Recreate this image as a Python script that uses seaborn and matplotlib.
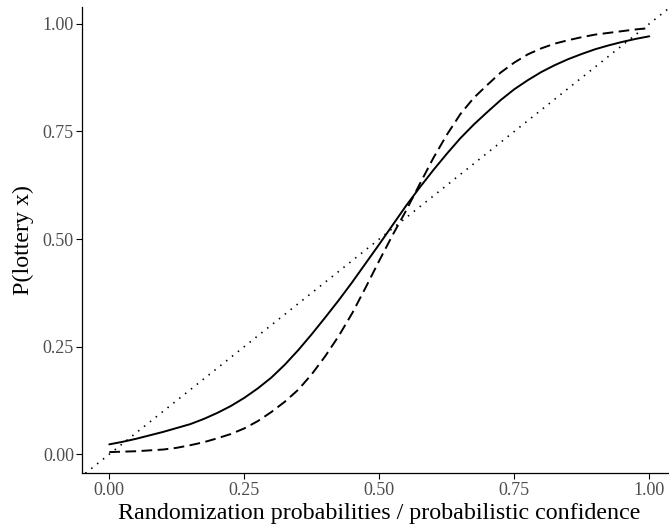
import numpy as np
import pandas as pd
import matplotlib
matplotlib.use("Agg")
import matplotlib.pyplot as plt
import seaborn as sns

# Probability grid and the two fitted response curves
prob = [0.000, 0.025, 0.050, 0.075, 0.100, 0.125, 0.150, 0.175, 0.200, 0.225,
        0.250, 0.275, 0.300, 0.325, 0.350, 0.375, 0.400, 0.425, 0.450, 0.475,
        0.500, 0.525, 0.550, 0.575, 0.600, 0.625, 0.650, 0.675, 0.700, 0.725,
        0.750, 0.775, 0.800, 0.825, 0.850, 0.875, 0.900, 0.925, 0.950, 0.975, 1.000]
p_solid = [0.023, 0.029, 0.036, 0.044, 0.052, 0.061, 0.070, 0.082, 0.096, 0.112,
           0.131, 0.153, 0.178, 0.208, 0.242, 0.279, 0.318, 0.358, 0.400, 0.444,
           0.488, 0.533, 0.578, 0.620, 0.660, 0.698, 0.734, 0.766, 0.795, 0.823,
           0.848, 0.869, 0.888, 0.904, 0.918, 0.930, 0.941, 0.950, 0.958, 0.965, 0.971]
p_dashed = [0.005, 0.006, 0.007, 0.009, 0.011, 0.015, 0.021, 0.028, 0.037, 0.047,
            0.060, 0.077, 0.098, 0.122, 0.150, 0.186, 0.228, 0.275, 0.328, 0.388,
            0.450, 0.510, 0.567, 0.628, 0.688, 0.742, 0.790, 0.828, 0.858, 0.887,
            0.910, 0.929, 0.943, 0.954, 0.962, 0.969, 0.975, 0.979, 0.983, 0.987, 0.990]

# Reference diagonal (identity line)
diag_intercept = 0.0
diag_slope = 1.0

tick_values = [0.00, 0.25, 0.50, 0.75, 1.00]
tick_labels = ["0.00", "0.25", "0.50", "0.75", "1.00"]

df = pd.DataFrame({"prob": prob, "solid": p_solid, "dashed": p_dashed})

sns.set_theme(style="ticks")
plt.rcParams["font.family"] = ["Liberation Serif", "DejaVu Serif"]

fig = plt.figure(figsize=(6.69, 5.28), dpi=100)
ax = fig.add_axes([0.1230, 0.1036, 0.8879, 0.8833])

sns.lineplot(data=df, x="prob", y="solid", ax=ax, color="black", linewidth=1.4,
             estimator=None, sort=False)
sns.lineplot(data=df, x="prob", y="dashed", ax=ax, color="black", linewidth=1.4,
             linestyle=(0, (5.5, 2.8)), estimator=None, sort=False)
ax.axline((0.0, diag_intercept), slope=diag_slope, color="black", linewidth=1.2,
          linestyle=(0, (0.9, 3.6)))

# ggplot-style 5% expansion of the data range
xmin, xmax = min(prob), max(prob)
ymin = min(min(p_solid), min(p_dashed))
ymax = max(max(p_solid), max(p_dashed))
ax.set_xlim(xmin - 0.05 * (xmax - xmin), xmax + 0.05 * (xmax - xmin))
ax.set_ylim(ymin - 0.05 * (ymax - ymin), ymax + 0.05 * (ymax - ymin))

ax.set_xticks(tick_values)
ax.set_xticklabels(tick_labels)
ax.set_yticks(tick_values)
ax.set_yticklabels(tick_labels)

ax.tick_params(axis="both", direction="out", length=4.0, width=0.8, color="black",
               labelsize=13, labelcolor="#4D4D4D", pad=2)
for side in ["top", "right"]:
    ax.spines[side].set_visible(False)
for side in ["left", "bottom"]:
    ax.spines[side].set_color("black")
    ax.spines[side].set_linewidth(0.9)

ax.set_xlabel("Randomization probabilities / probabilistic confidence",
              fontsize=17.3, color="black", labelpad=3)
ax.set_ylabel("P(lottery x)", fontsize=17.3, color="black", labelpad=6)
ax.grid(False)

fig.savefig("out.png", dpi=100)
